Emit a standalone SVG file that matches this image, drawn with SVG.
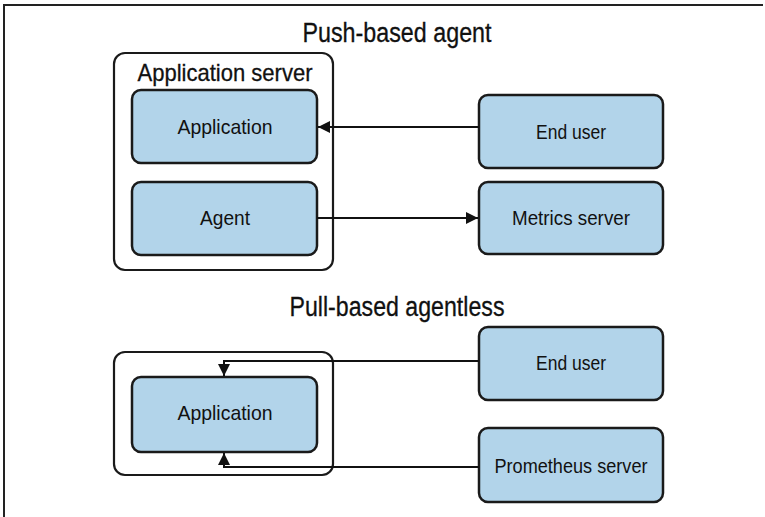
<svg xmlns="http://www.w3.org/2000/svg" width="765" height="517" viewBox="0 0 765 517">
  <style>
    .frame { fill: none; stroke: #222; stroke-width: 2; }
    .outer { fill: #ffffff; stroke: #1a1a1a; stroke-width: 2.2; }
    .box { fill: #b2d4ea; stroke: #1a1a1a; stroke-width: 2.5; }
    .title { font-family: "Liberation Sans", Arial, sans-serif; font-size: 27px; fill: #111; text-anchor: middle; stroke: #111; stroke-width: 0.3; }
    .label { font-family: "Liberation Sans", Arial, sans-serif; font-size: 21px; fill: #111; text-anchor: middle; }
    .group-label { font-family: "Liberation Sans", Arial, sans-serif; font-size: 24px; fill: #111; text-anchor: middle; stroke: #111; stroke-width: 0.3; }
    .conn { fill: none; stroke: #111; stroke-width: 2; }
  </style>
  <defs>
    <marker id="arrowL" viewBox="0 0 12 12" refX="12" refY="6" markerWidth="12" markerHeight="12" markerUnits="userSpaceOnUse" orient="auto">
      <path d="M0,0 L12,6 L0,12 z" fill="#111"/>
    </marker>
  </defs>
  <rect width="765" height="517" fill="#ffffff"/>
  <path class="frame" d="M4,517 L4,5 L763,5"/>

  <text class="title" x="397" y="42" textLength="189" lengthAdjust="spacingAndGlyphs">Push-based agent</text>
  <text class="title" x="397" y="316" textLength="215" lengthAdjust="spacingAndGlyphs">Pull-based agentless</text>

  <g id="app-server-push">
    <rect class="outer" x="114" y="53" width="219" height="217" rx="11"/>
    <text class="group-label" x="225" y="81" textLength="175" lengthAdjust="spacingAndGlyphs">Application server</text>
  </g>
  <g id="application-push">
    <rect class="box" x="132" y="90" width="185" height="73" rx="9"/>
    <text class="label" x="225" y="134" textLength="95" lengthAdjust="spacingAndGlyphs">Application</text>
  </g>
  <g id="agent">
    <rect class="box" x="132" y="182" width="185" height="73" rx="9"/>
    <text class="label" x="225" y="225" textLength="50" lengthAdjust="spacingAndGlyphs">Agent</text>
  </g>
  <g id="end-user-push">
    <rect class="box" x="479" y="95" width="184" height="73" rx="9"/>
    <text class="label" x="571" y="139" textLength="70" lengthAdjust="spacingAndGlyphs">End user</text>
  </g>
  <g id="metrics-server">
    <rect class="box" x="479" y="182" width="184" height="72" rx="9"/>
    <text class="label" x="571" y="225" textLength="118" lengthAdjust="spacingAndGlyphs">Metrics server</text>
  </g>

  <g id="app-server-pull">
    <rect class="outer" x="114" y="352" width="219" height="123" rx="11"/>
  </g>
  <g id="application-pull">
    <rect class="box" x="132" y="377" width="185" height="75" rx="9"/>
    <text class="label" x="225" y="420" textLength="95" lengthAdjust="spacingAndGlyphs">Application</text>
  </g>
  <g id="end-user-pull">
    <rect class="box" x="479" y="327" width="184" height="73" rx="9"/>
    <text class="label" x="571" y="370" textLength="70" lengthAdjust="spacingAndGlyphs">End user</text>
  </g>
  <g id="prometheus-server">
    <rect class="box" x="479" y="428" width="184" height="74" rx="9"/>
    <text class="label" x="571" y="473" textLength="153" lengthAdjust="spacingAndGlyphs">Prometheus server</text>
  </g>

  <g id="connectors">
    <path class="conn" d="M479,127 L318,127" marker-end="url(#arrowL)"/>
    <path class="conn" d="M317,218 L478,218" marker-end="url(#arrowL)"/>
    <path class="conn" d="M479,361 L224,361 L224,376" marker-end="url(#arrowL)"/>
    <path class="conn" d="M479,467 L224,467 L224,453" marker-end="url(#arrowL)"/>
  </g>
</svg>
